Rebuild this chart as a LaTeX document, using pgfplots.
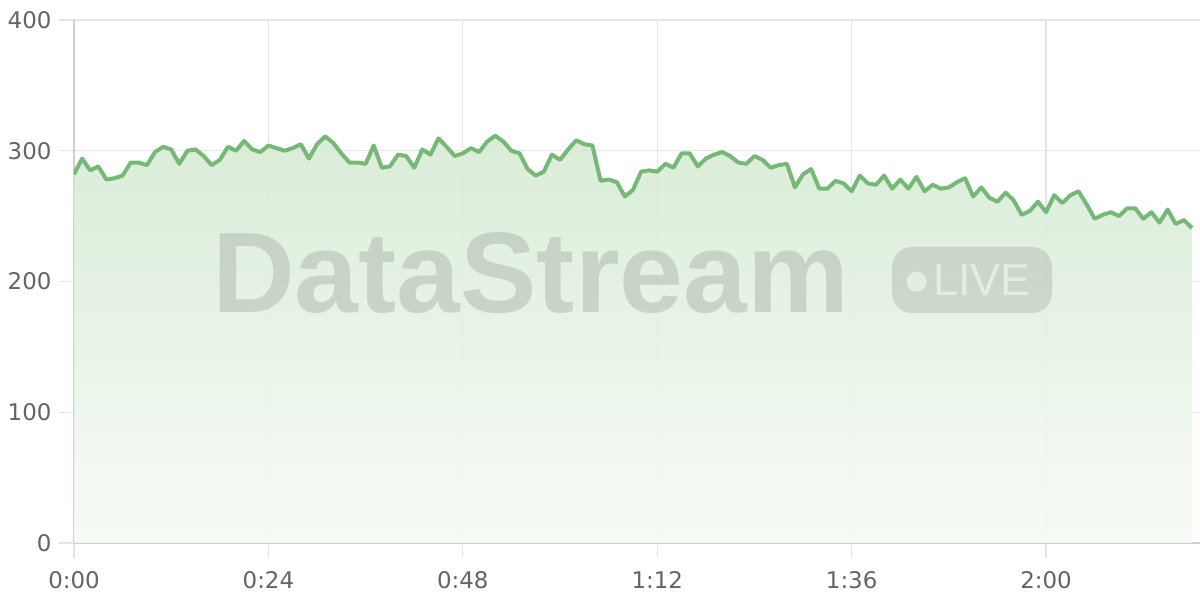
\documentclass[border=0pt]{standalone}
\usepackage{fontspec}
\setmainfont{DejaVu Sans}
\newfontfamily\wmfont{Liberation Sans}
\usepackage{pgfplots}
\usepackage{pgfplotstable}
\pgfplotsset{compat=1.18}

\definecolor{linegreen}{RGB}{118,185,118}
\definecolor{filltop}{RGB}{214,234,212}
\definecolor{fillbot}{RGB}{246,251,245}
\definecolor{gridgray}{RGB}{229,229,229}
\definecolor{axisgray}{RGB}{206,206,206}
\definecolor{labelgray}{RGB}{100,100,100}
\definecolor{knockout}{RGB}{226,239,224}

% seconds, value
\pgfplotstableread{
t v
0 282
1 294
2 285
3 288
4 278
5 279
6 281
7 291
8 291
9 289
10 299
11 303
12 301
13 290
14 300
15 301
16 296
17 289
18 293
19 303
20 300
21 307.5
22 301
23 299
24 304
25 302
26 300
27 302
28 305
29 294
30 305
31 311
32 306
33 298
34 291
35 291
36 290
37 304
38 287
39 288
40 297
41 296
42 287
43 301
44 297
45 309.5
46 303
47 296
48 298
49 302
50 299
51 307
52 311.5
53 307
54 300
55 298
56 286
57 281
58 284
59 297
60 293
61 301
62 308
63 305
64 304
65 277
66 278
67 276
68 265
69 270
70 284
71 285
72 284
73 290
74 287
75 298
76 298
77 288
78 294
79 297
80 299
81 296
82 291
83 290
84 296
85 293
86 287
87 289
88 290
89 272
90 282
91 286
92 271
93 271
94 277
95 275
96 269
97 281
98 275
99 274
100 281
101 271
102 278
103 271
104 280
105 269
106 274
107 271
108 272
109 276
110 279
111 265
112 272
113 264
114 261
115 268
116 262
117 251
118 254
119 261
120 253
121 266
122 260
123 266
124 269
125 259
126 248
127 251
128 253
129 250
130 256
131 256
132 248
133 253
134 245
135 255
136 244
137 247
138 241
}\datatable

\begin{document}
\begin{tikzpicture}
\useasboundingbox (-74bp,-57bp) rectangle (1126bp,543bp);
\begin{axis}[
  scale only axis, width=1126bp, height=523bp,
  xmin=0, xmax=139, ymin=0, ymax=400,
  xtick={0,24,48,72,96,120},
  xticklabels={0:00,0:24,0:48,1:12,1:36,2:00},
  ytick={0,100,200,300,400},
  grid=major,
  major grid style={gridgray, line width=1.2bp},
  axis x line*=bottom, axis y line*=left,
  x axis line style={axisgray, line width=2bp, -},
  y axis line style={axisgray, line width=1.5bp, -},
  tick align=outside, major tick length=15bp,
  tick style={gridgray, line width=1.2bp},
  /pgf/number format/assume math mode=true,
  ticklabel style={font=\fontsize{23}{26}\selectfont, text=labelgray},
  xticklabel style={anchor=north, yshift=-10bp},
  yticklabel style={anchor=east, xshift=-4bp},
]
\addplot[draw=none, fill opacity=0.9, top color=filltop, bottom color=fillbot]
  table[x=t, y=v] {\datatable} \closedcycle;
\addplot[linegreen, line width=4bp, line join=round] table[x=t, y=v] {\datatable};
\end{axis}
% watermark
\node[anchor=base west, inner sep=0pt, text=black, opacity=0.12,
  font=\wmfont\bfseries\fontsize{115}{120}\selectfont] at (138bp,230bp) {DataStream};
\fill[black, opacity=0.11, rounded corners=20bp] (818bp,230bp) rectangle (978bp,296bp);
\fill[knockout] (842.7bp,261.3bp) circle (10bp);
\node[anchor=base west, inner sep=0pt, text=knockout,
  font=\wmfont\fontsize{45}{50}\selectfont] at (859bp,247.3bp) {LIVE};
\end{tikzpicture}
\end{document}
